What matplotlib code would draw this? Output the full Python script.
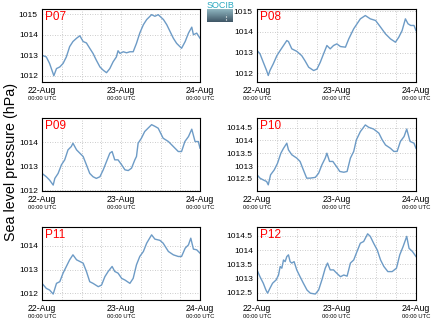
import matplotlib
matplotlib.use("Agg")
import matplotlib.pyplot as plt
from matplotlib.colors import LinearSegmentedColormap
import numpy as np

plt.rcParams['font.family'] = ['Liberation Sans', 'DejaVu Sans']

# hours since 22-Aug 00:00 UTC and sea level pressure (hPa)
p07_h = [0, 1.3, 2.3, 3.6, 4.4, 5.4, 6.4, 7.4, 8.4, 9.4, 10.5, 11.5, 12.5, 13.5, 14.5, 15.5,
         16.5, 17.6, 18.6, 19.6, 20.6, 21.6, 22.6, 23.1, 23.7, 24.7, 25.7, 26.7, 27.7, 28.7,
         29.7, 30.8, 31.8, 33.3, 34.3, 35.3, 36.9, 37.9, 38.9, 39.9, 40.9, 42.4, 43.5, 44.5,
         45.5, 46.0, 47.0, 48.0]
p07_v = [1013.0, 1012.92, 1012.6, 1012.0, 1012.35, 1012.43, 1012.6, 1012.92, 1013.42, 1013.67,
         1013.83, 1013.95, 1013.67, 1013.6, 1013.34, 1013.09, 1012.76, 1012.43, 1012.27, 1012.15,
         1012.35, 1012.68, 1012.92, 1013.22, 1013.09, 1013.17, 1013.12, 1013.17, 1013.17, 1013.58,
         1014.08, 1014.49, 1014.74, 1014.98, 1014.9, 1014.98, 1014.74, 1014.49, 1014.16, 1013.83,
         1013.58, 1013.34, 1013.67, 1014.08, 1014.37, 1014.0, 1014.08, 1013.83]

p08_h = [0, 0.9, 1.9, 2.9, 3.4, 3.9, 4.9, 6.0, 7.0, 8.0, 9.0, 9.5, 10.5, 12.0, 13.5, 14.5, 15.6,
         17.1, 18.1, 19.1, 20.1, 21.1, 22.1, 23.1, 24.1, 25.2, 26.7, 27.7, 29.2, 30.2, 31.2,
         32.7, 34.2, 35.8, 37.3, 38.8, 40.3, 41.8, 42.8, 43.8, 44.8, 45.6, 46.4, 47.4, 48.0]
p08_v = [1013.1, 1012.94, 1012.53, 1012.13, 1011.89, 1012.13, 1012.45, 1012.85, 1013.1, 1013.34,
         1013.58, 1013.53, 1013.18, 1013.06, 1012.85, 1012.6, 1012.29, 1012.13, 1012.2, 1012.53,
         1012.94, 1013.34, 1013.18, 1013.34, 1013.42, 1013.29, 1013.26, 1013.66, 1014.15, 1014.39,
         1014.63, 1014.79, 1014.63, 1014.55, 1014.23, 1013.9, 1013.66, 1013.5, 1013.74, 1014.06,
         1014.63, 1014.39, 1014.31, 1014.31, 1014.06]

p09_h = [0, 1.3, 2.3, 3.4, 3.9, 4.9, 5.9, 6.9, 7.9, 8.9, 9.4, 10.5, 11.5, 12.5, 13.5, 14.5, 15.5,
         16.5, 17.6, 18.6, 19.6, 20.6, 21.3, 22.1, 23.1, 24.2, 25.2, 26.2, 27.2, 28.2, 28.7,
         29.2, 30.2, 31.2, 32.2, 33.3, 34.3, 35.3, 36.8, 38.4, 39.9, 41.4, 42.4, 43.4, 44.5,
         45.5, 46.5, 47.5, 48.0]
p09_v = [1012.7, 1012.56, 1012.42, 1012.21, 1012.49, 1012.7, 1013.06, 1013.27, 1013.69, 1013.83,
         1013.97, 1013.69, 1013.55, 1013.41, 1013.06, 1012.7, 1012.56, 1012.49, 1012.56, 1012.85,
         1013.2, 1013.55, 1013.62, 1013.27, 1013.27, 1013.06, 1012.85, 1012.82, 1012.92, 1013.27,
         1013.41, 1013.97, 1014.18, 1014.46, 1014.6, 1014.75, 1014.68, 1014.6, 1014.18, 1014.04,
         1013.83, 1013.62, 1013.62, 1014.04, 1014.25, 1014.56, 1014.04, 1014.04, 1013.76]

p10_h = [0, 0.9, 1.9, 2.9, 3.4, 4.1, 5.2, 6.2, 7.2, 8.0, 9.0, 9.5, 10.5, 12.0, 13.0, 14.0, 15.0,
         16.0, 17.6, 18.6, 19.6, 20.6, 21.1, 21.9, 22.9, 24.0, 25.0, 26.2, 27.2, 28.2, 29.2,
         30.0, 31.2, 32.7, 33.7, 35.2, 36.8, 37.8, 38.8, 40.3, 41.3, 42.3, 43.3, 44.4, 45.2,
         46.2, 47.4, 48.0]
p10_v = [1012.66, 1012.53, 1012.46, 1012.4, 1012.27, 1012.66, 1012.85, 1013.11, 1013.5, 1013.69,
         1013.89, 1013.63, 1013.44, 1013.31, 1013.18, 1012.85, 1012.53, 1012.53, 1012.56, 1012.72,
         1013.05, 1013.31, 1013.5, 1013.18, 1013.18, 1012.98, 1012.79, 1012.76, 1012.79, 1013.31,
         1013.57, 1014.02, 1014.34, 1014.6, 1014.51, 1014.44, 1014.28, 1014.02, 1013.82, 1013.69,
         1013.57, 1013.57, 1013.96, 1014.15, 1014.44, 1013.96, 1013.89, 1013.69]

p11_h = [0, 1.3, 2.3, 3.4, 4.4, 5.4, 6.4, 7.4, 8.4, 9.4, 10.5, 11.5, 12.5, 13.5, 14.5, 15.5, 17.1,
         18.1, 19.1, 20.1, 21.3, 22.1, 23.1, 24.2, 25.2, 26.7, 27.7, 28.7, 29.7, 30.8, 31.8,
         33.3, 34.3, 35.8, 36.8, 38.4, 39.9, 41.4, 42.4, 43.5, 44.5, 45.2, 46.0, 47.0, 48.0]
p11_v = [1012.42, 1012.21, 1012.14, 1011.97, 1012.42, 1012.49, 1012.85, 1013.13, 1013.41, 1013.62,
         1013.41, 1013.34, 1013.27, 1012.92, 1012.49, 1012.42, 1012.28, 1012.35, 1012.7, 1012.92,
         1013.13, 1012.92, 1012.85, 1012.63, 1012.56, 1012.42, 1012.63, 1013.2, 1013.55, 1013.76,
         1014.11, 1014.46, 1014.28, 1014.23, 1014.11, 1013.76, 1013.62, 1013.55, 1013.55, 1013.9,
         1014.04, 1014.32, 1013.86, 1013.83, 1013.69]

p12_h = [0, 0.9, 1.9, 2.7, 3.2, 3.9, 4.7, 5.8, 6.5, 7.0, 7.5, 8.0, 8.5, 9.0, 9.5, 10.0, 10.5,
         11.2, 12.0, 13.0, 14.0, 15.1, 16.1, 17.6, 18.6, 19.6, 20.6, 21.3, 22.1, 23.1, 24.1,
         25.2, 26.2, 27.2, 28.2, 29.2, 30.2, 31.2, 32.2, 33.4, 34.2, 35.2, 36.3, 37.3, 38.3,
         39.5, 40.8, 42.1, 43.1, 44.1, 45.2, 45.9, 46.9, 48.0]
p12_v = [1013.3, 1013.06, 1012.83, 1012.59, 1012.48, 1012.65, 1012.83, 1012.95, 1013.12, 1013.42,
         1013.36, 1013.65, 1013.59, 1013.77, 1013.83, 1013.59, 1013.54, 1013.59, 1013.3, 1013.06,
         1012.83, 1012.59, 1012.48, 1012.45, 1012.59, 1012.95, 1013.36, 1013.54, 1013.3, 1013.3,
         1013.18, 1013.06, 1013.12, 1013.08, 1013.54, 1013.65, 1013.95, 1014.24, 1014.3, 1014.57,
         1014.48, 1014.24, 1014.0, 1013.65, 1013.42, 1013.24, 1013.24, 1013.36, 1013.83, 1014.12,
         1014.48, 1014.06, 1013.95, 1013.77]

names = ['P07', 'P08', 'P09', 'P10', 'P11', 'P12']
hours = [p07_h, p08_h, p09_h, p10_h, p11_h, p12_h]
values = [p07_v, p08_v, p09_v, p10_v, p11_v, p12_v]
ylims = [(1011.72, 1015.28), (1011.6, 1015.13), (1011.96, 1015.03),
         (1012.03, 1014.87), (1011.72, 1014.79), (1012.24, 1014.81)]
yticks = [[1012, 1013, 1014, 1015], [1012, 1013, 1014, 1015], [1012, 1013, 1014],
          [1012.5, 1013, 1013.5, 1014, 1014.5], [1012, 1013, 1014],
          [1012.5, 1013, 1013.5, 1014, 1014.5]]
day_labels = ['22-Aug', '23-Aug', '24-Aug']

W, H = 434, 327
fig = plt.figure(figsize=(W / 100, H / 100), dpi=100)

lefts = [42, 257]
widths = [158, 159]
tops = [8.5, 118, 227]
height = 73

for i in range(6):
    r, c = i // 2, i % 2
    ax = fig.add_axes([lefts[c] / W, 1 - (tops[r] + height) / H, widths[c] / W, height / H])
    ax.plot(hours[i], values[i], color='#6d9bc6', lw=1.0)
    ax.set_xlim(0, 48)
    ax.set_ylim(*ylims[i])
    ax.set_xticks([0, 24, 48])
    ax.set_xticklabels(day_labels, fontsize=6.3)
    ax.set_xticks(np.arange(6, 48, 6), minor=True)
    ax.set_yticks(yticks[i])
    ax.set_yticklabels(['%g' % t for t in yticks[i]], fontsize=6)
    ax.tick_params(which='both', length=0, pad=3)
    ax.grid(True, which='both', color='#bbbbbb', ls=(0, (1, 2)), lw=0.6)
    for s in ax.spines.values():
        s.set_linewidth(0.8)
    for t in [0, 24, 48]:
        ax.text(t, -0.23, '00:00 UTC', transform=ax.get_xaxis_transform(),
                ha='center', va='center', fontsize=4.2)
    ax.text(0.02, 0.97, names[i], transform=ax.transAxes, color='red',
            fontsize=8.5, ha='left', va='top')

fig.text(11 / W, 1 - 162 / H, 'Sea level pressure (hPa)', rotation=90,
         ha='center', va='center', fontsize=10.3)

# small logo at the top centre
lax = fig.add_axes([207 / W, 1 - 22 / H, 26 / W, 13 / H])
logo_cmap = LinearSegmentedColormap.from_list('logo', ['#8fb6c0', '#3f5666'])
grad = np.linspace(0, 1, 50).reshape(-1, 1)
lax.imshow(grad, aspect='auto', cmap=logo_cmap, extent=[0, 1, 0, 1])
lax.plot([0.72, 0.72], [0.15, 0.6], color='white', ls=':', lw=0.8)
lax.set_axis_off()
fig.text(220 / W, 1 - 5 / H, 'SOCIB', color='#2aa8c0', fontsize=6.5,
         ha='center', va='center')

fig.savefig('out.png', dpi=100)
